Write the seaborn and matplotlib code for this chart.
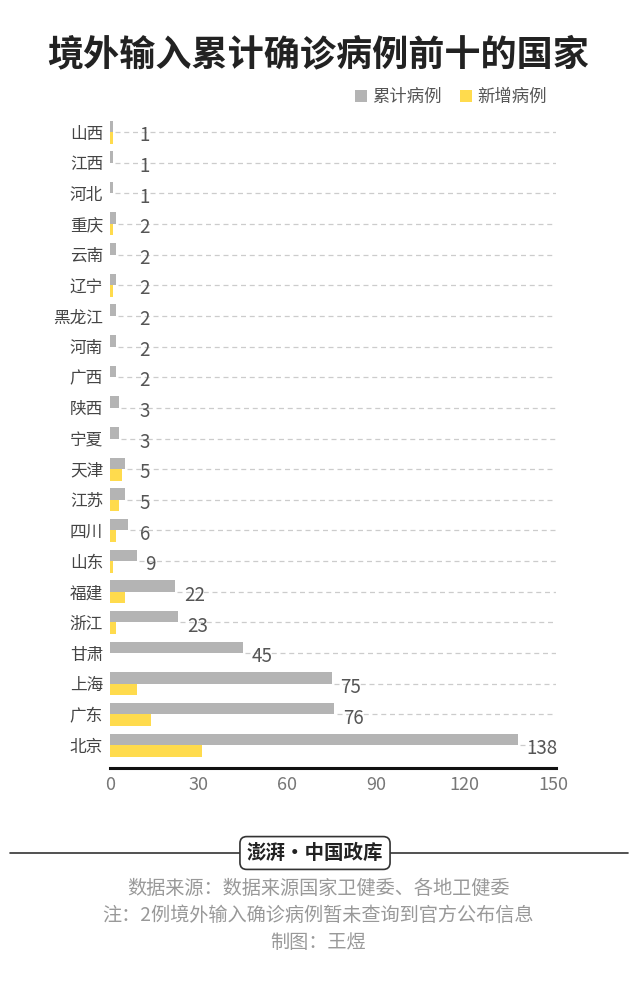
import numpy as np
import pandas as pd
import seaborn as sns
import matplotlib.pyplot as plt
from matplotlib.lines import Line2D

# 数据
provinces = ['山西', '江西', '河北', '重庆', '云南', '辽宁', '黑龙江', '河南', '广西', '陕西', '宁夏',
             '天津', '江苏', '四川', '山东', '福建', '浙江', '甘肃', '上海', '广东', '北京']
total_cases = [1, 1, 1, 2, 2, 2, 2, 2, 2, 3, 3, 5, 5, 6, 9, 22, 23, 45, 75, 76, 138]
new_cases = [1, 0, 0, 1, 0, 1, 0, 0, 0, 0, 0, 4, 3, 2, 1, 5, 2, 0, 9, 14, 31]
series_names = ['累计病例', '新增病例']
x_ticks = [0, 30, 60, 90, 120, 150]

title = '境外输入累计确诊病例前十的国家'
footer_lines = ['数据来源：数据来源国家卫健委、各地卫健委',
                '注：2例境外输入确诊病例暂未查询到官方公布信息',
                '制图：王煜']

GRAY = '#b4b4b4'
YELLOW = '#ffdb4d'

sns.set_theme(style='white')
plt.rcParams['font.family'] = ['Noto Sans CJK SC', 'DejaVu Sans']

df = pd.DataFrame({
    'province': provinces * 2,
    'value': total_cases + new_cases,
    'series': [series_names[0]] * len(provinces) + [series_names[1]] * len(provinces),
})

fig = plt.figure(figsize=(6.36, 10), dpi=100)
ax = fig.add_axes([110 / 636, 0.232, (556 - 110) / 636, 0.8833 - 0.232])

sns.barplot(data=df, y='province', x='value', hue='series', order=provinces,
            hue_order=series_names, palette=[GRAY, YELLOW], saturation=1, orient='h',
            width=0.75, linewidth=0, ax=ax)
for p in ax.patches:
    p.set_zorder(3)

# 虚线网格（从柱子末端开始）
for i in range(len(provinces)):
    start = max(total_cases[i], new_cases[i]) + 0.8
    ax.hlines(i, start, 151, color='#cccccc', lw=0.9, linestyles=(0, (4, 3)), zorder=0.5)

# 数值标签
for i, v in enumerate(total_cases):
    ax.text(max(v + 3, 10), i + 0.12, str(v), ha='left', va='center',
            fontsize=13.5, color='#555555', zorder=4)

ax.set_xlim(0, 151)
ax.set_ylim(20.75, -0.5)
ax.set_xticks(x_ticks)
ax.set_xticklabels([str(t) for t in x_ticks])
ax.set_xlabel('')
ax.set_ylabel('')
ax.tick_params(axis='x', length=0, pad=6, labelsize=13, labelcolor='#777777')
ax.tick_params(axis='y', length=0, pad=5, labelsize=12, labelcolor='#444444')
for s in ['top', 'right', 'left']:
    ax.spines[s].set_visible(False)
ax.spines['bottom'].set_color('#111111')
ax.spines['bottom'].set_linewidth(2.2)

# 图例
handles, labels = ax.get_legend_handles_labels()
ax.legend(handles, labels, loc='center right', bbox_to_anchor=(562 / 636, 1 - 97 / 1000),
          bbox_transform=fig.transFigure, ncol=2, frameon=False, fontsize=12.5,
          handlelength=0.7, handleheight=0.7, handletextpad=0.3, columnspacing=1.0,
          labelcolor='#555555')

# 标题
fig.text(0.5, 1 - 55 / 1000, title, ha='center', va='center', fontsize=26,
         fontweight='bold', color='#222222')

# 底部标识
y_line = 1 - 853 / 1000
fig.add_artist(Line2D([10 / 636, 240 / 636], [y_line, y_line], color='#333333', lw=1.2))
fig.add_artist(Line2D([390 / 636, 628 / 636], [y_line, y_line], color='#333333', lw=1.2))
fig.text(315 / 636, y_line, '澎湃·中国政库', ha='center', va='center', fontsize=14,
         fontweight='bold', color='#222222',
         bbox=dict(boxstyle='round,pad=0.35', fc='white', ec='#333333', lw=1.2))

for k, line in enumerate(footer_lines):
    fig.text(0.5, 1 - (888 + 27 * k) / 1000, line, ha='center', va='center',
             fontsize=13.8, color='#999999')

fig.savefig('out.png', dpi=100)
